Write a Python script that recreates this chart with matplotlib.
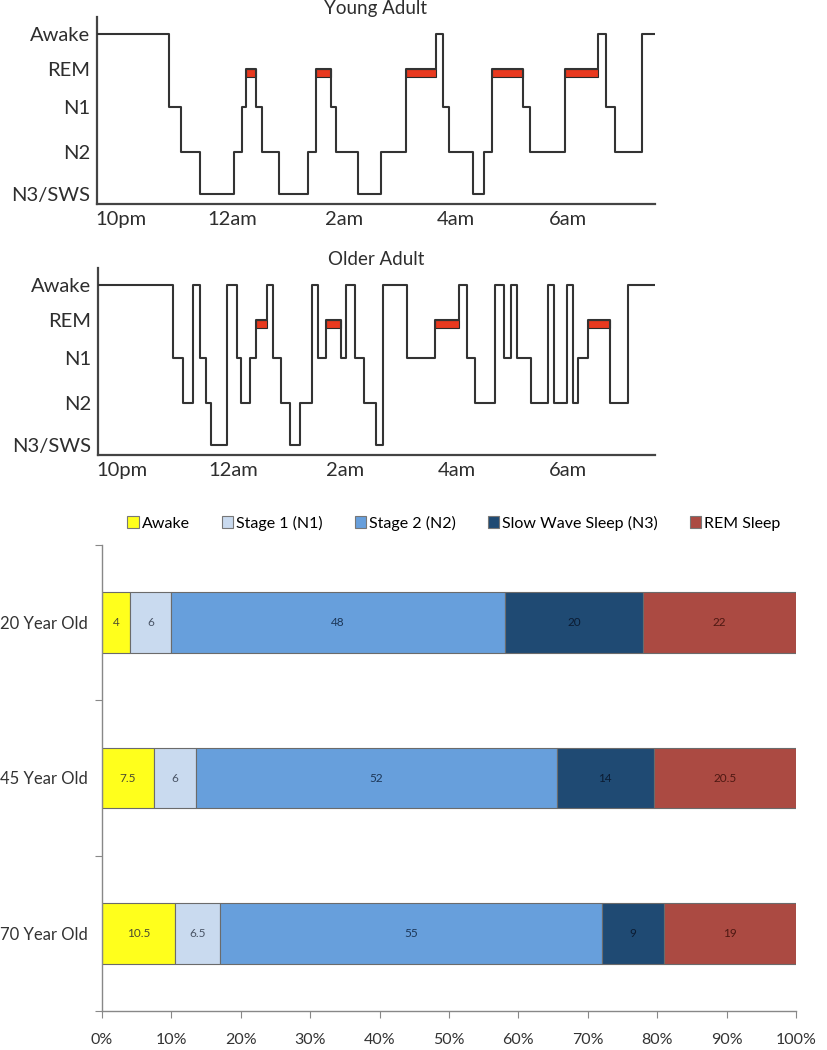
import matplotlib.pyplot as plt
from matplotlib.patches import Patch
import numpy as np

plt.rcParams['font.family'] = ['Lato', 'DejaVu Sans']

# ---- hypnogram data (hours after 10pm, stage of each segment) ----
stage_names = ['N3/SWS', 'N2', 'N1', 'REM', 'Awake']
stage_level = {'N3': 0.0, 'N2': 1.0, 'N1': 2.07, 'REM': 2.98, 'Awake': 3.8}
hour_ticks = [0, 2, 4, 6, 8]
hour_labels = ['10pm', '12am', '2am', '4am', '6am']

young_t = [-0.43, 0.86, 1.07, 1.42, 2.02, 2.16, 2.24, 2.42, 2.52, 2.83, 3.35,
           3.49, 3.76, 3.84, 4.25, 4.65, 5.10, 5.64, 5.77, 5.875, 6.30, 6.50,
           6.65, 7.20, 7.32, 7.95, 8.54, 8.68, 8.84, 9.33, 9.54]
young_stage = ['Awake', 'N1', 'N2', 'N3', 'N2', 'N1', 'REM', 'N1', 'N2', 'N3',
               'N2', 'REM', 'N1', 'N2', 'N3', 'N2', 'REM', 'Awake', 'N1', 'N2',
               'N3', 'N2', 'REM', 'N1', 'N2', 'REM', 'Awake', 'N1', 'N2', 'Awake']

older_t = [-0.43, 0.92, 1.10, 1.27, 1.40, 1.50, 1.60, 1.88, 2.07, 2.14, 2.30,
           2.40, 2.60, 2.71, 2.85, 3.02, 3.20, 3.40, 3.52, 3.66, 3.92, 4.02,
           4.18, 4.34, 4.55, 4.68, 5.11, 5.61, 6.04, 6.18, 6.34, 6.69, 6.86,
           6.97, 7.08, 7.33, 7.64, 7.75, 7.98, 8.09, 8.18, 8.35, 8.76, 9.07, 9.54]
older_stage = ['Awake', 'N1', 'N2', 'Awake', 'N1', 'N2', 'N3', 'Awake', 'N1', 'N2',
               'N1', 'REM', 'Awake', 'N1', 'N2', 'N3', 'N2', 'Awake', 'N1', 'REM',
               'N1', 'Awake', 'N1', 'N2', 'N3', 'Awake', 'N1', 'REM', 'Awake', 'N1',
               'N2', 'Awake', 'N1', 'Awake', 'N1', 'N2', 'Awake', 'N2', 'Awake', 'N2',
               'N1', 'REM', 'N2', 'Awake']

# ---- stacked bar data (% of sleep) ----
ages = ['20 Year Old', '45 Year Old', '70 Year Old']
awake = [4, 7.5, 10.5]
stage1 = [6, 6, 6.5]
stage2 = [48, 52, 55]
sws = [20, 14, 9]
rem = [22, 20.5, 19]
series_names = ['Awake', 'Stage 1 (N1)', 'Stage 2 (N2)', 'Slow Wave Sleep (N3)', 'REM Sleep']
pct_ticks = [0, 10, 20, 30, 40, 50, 60, 70, 80, 90, 100]

fig = plt.figure(figsize=(8.27, 10.5), dpi=100)


def hypnogram(rect, times, stages, title):
    ax = fig.add_axes(rect)
    lv = [stage_level[s] for s in stages]
    # red REM blocks hanging under the REM line
    for i, s in enumerate(stages):
        if s == 'REM':
            ax.bar(times[i], -0.2, width=times[i + 1] - times[i], bottom=stage_level['REM'],
                   align='edge', color='#e8391f', edgecolor='#2a2a2a', lw=0.8, zorder=2)
    ax.step(times, lv + [lv[-1]], where='post', color='#333333', lw=1.5, zorder=3)
    ax.set_xlim(-0.43, 9.56)
    ax.set_ylim(-0.24, 4.21)
    ax.set_yticks([stage_level[k] for k in ['N3', 'N2', 'N1', 'REM', 'Awake']])
    ax.set_yticklabels(stage_names, fontsize=14.5, color='#2e2e2e')
    ax.set_xticks(hour_ticks)
    ax.set_xticklabels(hour_labels, fontsize=14.5, color='#2e2e2e')
    ax.tick_params(axis='both', length=0)
    ax.tick_params(axis='y', pad=5)
    ax.tick_params(axis='x', pad=5)
    for sp in ['top', 'right']:
        ax.spines[sp].set_visible(False)
    for sp in ['left', 'bottom']:
        ax.spines[sp].set_linewidth(1.6)
        ax.spines[sp].set_color('#444444')
    ax.set_title(title, fontsize=13.5, color='#2e2e2e', pad=-2)
    return ax


hypnogram([97 / 827, 1 - 204 / 1050, 558 / 827, 187 / 1050], young_t, young_stage, 'Young Adult')
hypnogram([98 / 827, 1 - 455 / 1050, 557 / 827, 187 / 1050], older_t, older_stage, 'Older Adult')

# ---- stacked bars ----
ax = fig.add_axes([102 / 827, 1 - 1011 / 1050, 694 / 827, 466 / 1050])
colors = ['#ffff1c', '#c9daef', '#679fdc', '#1f4a73', '#ab4a42']
txt_colors = ['#4a4a30', '#4a5566', '#1c3657', '#0b1c33', '#4e1812']
ypos = [2.5, 1.5, 0.5]
left = np.zeros(len(ages))
for vals, name, c, tc in zip([awake, stage1, stage2, sws, rem], series_names, colors, txt_colors):
    v = np.array(vals) / 100.0
    ax.barh(ypos, v, left=left, height=0.39, color=c, edgecolor='#6b6b6b', lw=0.8, label=name)
    for y, l, w, raw in zip(ypos, left, v, vals):
        ax.text(l + w / 2, y, f'{raw:g}', ha='center', va='center', fontsize=8.5, color=tc)
    left = left + v

ax.set_xlim(0, 1)
ax.set_ylim(0, 3)
ax.set_xticks([p / 100 for p in pct_ticks])
ax.set_xticklabels([f'{p}%' for p in pct_ticks], fontsize=11.5, color='#333333')
ax.set_yticks([0, 1, 2, 3])
ax.set_yticklabels([])
ax.set_yticks(ypos, minor=True)
ax.set_yticklabels(ages, minor=True, fontsize=12, color='#333333')
ax.tick_params(axis='y', which='minor', length=0, pad=10)
ax.tick_params(axis='both', which='major', length=5, color='#888888', direction='out')
ax.tick_params(axis='x', pad=11)
for sp in ['top', 'right']:
    ax.spines[sp].set_visible(False)
for sp in ['left', 'bottom']:
    ax.spines[sp].set_color('#888888')
    ax.spines[sp].set_linewidth(1.0)

handles = [Patch(facecolor=c, edgecolor='#777777', lw=0.8) for c in colors]
fig.legend(handles, series_names, ncol=5, loc='center left',
           bbox_to_anchor=(113 / 827, 1 - 523 / 1050), frameon=False, fontsize=11.5,
           handlelength=0.7, handleheight=0.7, handletextpad=0.2, columnspacing=2.0)

fig.savefig('out.png', dpi=100)
